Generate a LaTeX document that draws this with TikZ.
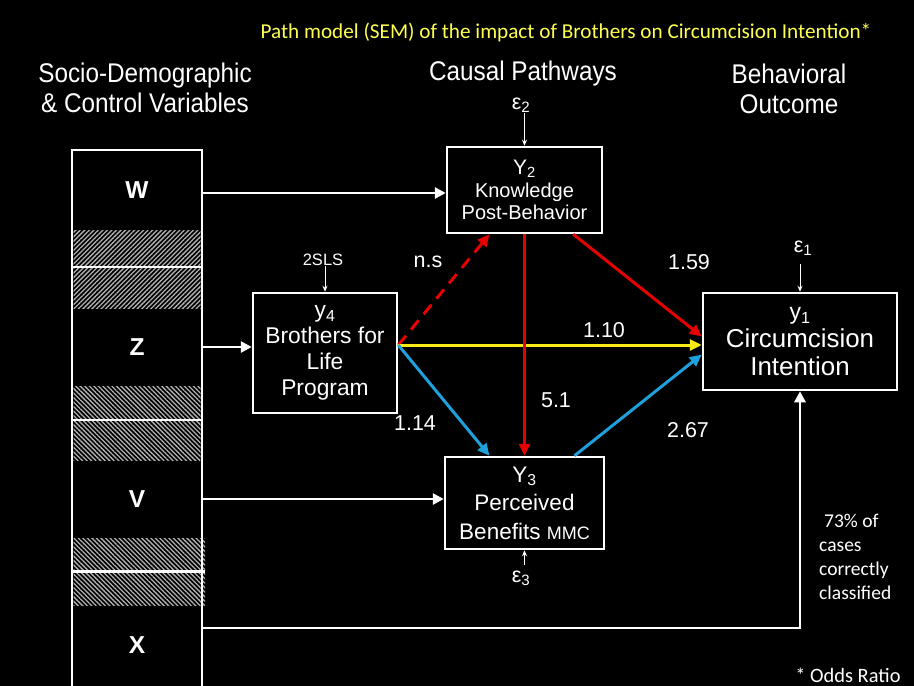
\documentclass[tikz,border=0pt]{standalone}
\usepackage{fontspec}
\setmainfont{Liberation Sans}
\newfontfamily\calib{Carlito}
\newfontfamily\narrowsans[FakeStretch=0.9]{Liberation Sans}
\usetikzlibrary{arrows.meta,patterns.meta}
\definecolor{titleyel}{RGB}{255,255,80}
\definecolor{myred}{RGB}{230,0,0}
\definecolor{myyel}{RGB}{250,235,20}
\definecolor{myblue}{RGB}{30,160,220}
\begin{document}
\begin{tikzpicture}[x=1pt,y=-1pt,
 box/.style={draw=white,line width=2.5pt,fill=black,text=white,align=center,inner sep=0pt},
 cell/.style={text=white,font=\fontsize{24.5}{28}\selectfont\bfseries,minimum width=130pt,inner sep=0pt},
 wline/.style={white,line width=2.8pt,-{Triangle[length=11pt,width=11pt]}},
 cline/.style={line width=3pt,-{Triangle[length=12pt,width=11pt]}},
 eline/.style={white,line width=1pt,-{Stealth[length=6pt,width=5pt]}},
 lab/.style={text=white,font=\fontsize{21.5}{24}\selectfont,inner sep=0pt},
 hdr/.style={text=white,align=center,font=\narrowsans\fontsize{27}{30}\selectfont,inner sep=0pt},
 hatchA/.style={pattern={Lines[angle=45,distance=3.2pt,line width=1.3pt]},pattern color=gray!60!white},
 hatchB/.style={pattern={Lines[angle=-45,distance=3.2pt,line width=1.3pt]},pattern color=gray!60!white},
 gap/.style={white,line width=2.5pt}
]
\fill[black] (0,0) rectangle (914,686);
\useasboundingbox (0,0) rectangle (914,686);

% title and headers
\node[text=titleyel,font=\calib\fontsize{21.2}{24}\selectfont,inner sep=0pt] (title) at (566,32) {Path model (SEM) of the impact of Brothers on Circumcision Intention*};
\node[hdr] (h1) at (145,88) {Socio-Demographic\\\& Control Variables};
\node[hdr] (h2) at (523,74) {Causal Pathways};
\node[hdr] (h3) at (789,89) {Behavioral\\Outcome};

% left column
\fill[hatchA] (73.5,230) rectangle (200.5,308);
\draw[gap] (72,267) -- (202,267);
\fill[hatchB] (73.5,386) rectangle (200.5,460);
\draw[gap] (72,420) -- (202,420);
\fill[hatchB] (73.5,538) rectangle (205,605);
\draw[gap] (72,571.5) -- (205,571.5);
\draw[white,line width=2.5pt] (72,686) -- (72,150) -- (202,150) -- (202,686);
\node[cell,minimum height=80pt] (W) at (137,190) {W};
\node[cell,minimum height=78pt] (Z) at (137,347) {Z};
\node[cell,minimum height=78pt] (V) at (137,499) {V};
\node[cell,minimum height=81pt] (X) at (137,645) {X};

% boxes
\node[box,minimum width=155pt,minimum height=86pt,font=\fontsize{20}{22.5}\selectfont] (Y2) at (524.5,190)
 {{\fontsize{21}{22.5}\selectfont Y\textsubscript{2}}\\Knowledge\\Post-Behavior};
\node[box,minimum width=159pt,minimum height=92pt,font=\fontsize{22.5}{28.5}\selectfont] (Y3) at (524.5,503)
 {Y\textsubscript{3}\\Perceived\\Benefits {\fontsize{18}{20}\selectfont MMC}};
\node[box,minimum width=144pt,minimum height=120pt,font=\fontsize{22.8}{26}\selectfont] (Y4) at (325,353)
 {y\textsubscript{4}\\Brothers for\\Life\\Program};
\node[box,minimum width=194pt,minimum height=97pt,font=\fontsize{25.9}{28}\selectfont] (C) at (800,341.5)
 {{\fontsize{23}{28}\selectfont y\textsubscript{1}}\\Circumcision\\Intention};

% error terms
\node[lab] (e2) at (521,105) {ε\textsubscript{2}};
\draw[eline] (e2.south -| Y2.north) -- (Y2.north);
\node[lab] (e3) at (521,578) {ε\textsubscript{3}};
\draw[eline] ([yshift=5pt]e3.north -| Y3.south) -- (Y3.south);
\node[lab] (e1) at (803,248) {ε\textsubscript{1}};
\draw[eline] ([yshift=-8pt]e1.south -| C.north) -- (C.north);
\node[lab,font=\fontsize{16.5}{19}\selectfont] (sls) at (323,260) {2SLS};
\draw[eline] (sls.south -| Y4.north) -- (Y4.north);

% white connectors from covariates
\draw[wline] ([yshift=-3pt]W.east) -- ([yshift=-3pt]W.east -| Y2.west);
\draw[wline] (Z.east) -- (Z.east -| Y4.west);
\draw[wline] (V.east) -- (V.east -| Y3.west);
\draw[wline] ([yshift=17pt]X.east) -| (C.south);

% coloured paths
\coordinate (s) at ([yshift=8pt]Y4.east);
\draw[cline,myred,dash pattern=on 12pt off 8pt] (s) -- ([xshift=-35pt]Y2.south);
\draw[cline,myyel] (s) -- (s -| C.west);
\draw[cline,myblue] (s) -- ([xshift=-35pt]Y3.north);
\draw[cline,myred] (Y2.south) -- (Y3.north);
\draw[cline,myred] ([xshift=-30pt]Y2.south east) -- ([yshift=5pt]C.west);
\draw[cline,myblue] ([xshift=50pt]Y3.north) -- ([yshift=-13pt]C.west);

% path labels
\node[lab] (lns) at (428,262) {n.s};
\node[lab] (l159) at (689,262) {1.59};
\node[lab] (l110) at (604,330) {1.10};
\node[lab] (l51) at (556,400) {5.1};
\node[lab] (l114) at (415,423) {1.14};
\node[lab] (l267) at (688,430) {2.67};

% notes
\node[text=white,align=left,anchor=west,font=\calib\fontsize{19.5}{24}\selectfont,inner sep=0pt] (pct) at (819,557)
 {\hspace{5pt}73\% of\\cases\\correctly\\classified};
\node[text=white,font=\calib\fontsize{20.4}{22}\selectfont,inner sep=0pt] (odds) at (848,675) {* Odds Ratio};
\end{tikzpicture}
\end{document}
